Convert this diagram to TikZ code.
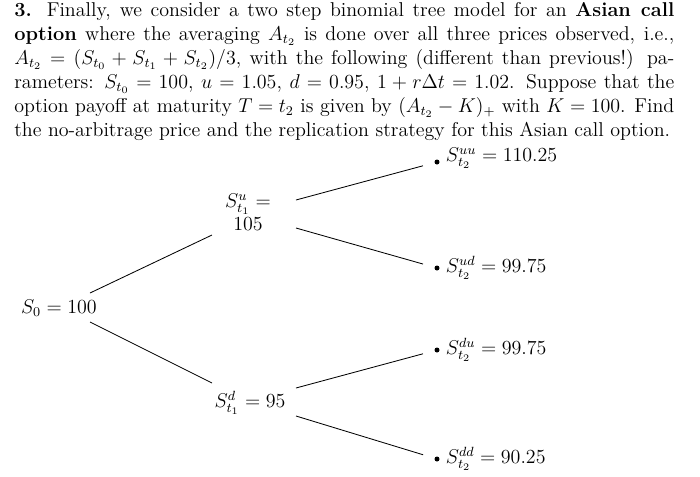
\documentclass[tikz,border=0pt]{standalone}
\usepackage{amsmath}
\begin{document}
\begin{tikzpicture}[x=0.6pt,y=-0.6pt,
  lbl/.style={inner sep=1pt,font=\fontsize{12}{14.4}\selectfont},
  dot/.style={circle,fill,inner sep=0pt,minimum size=3pt},
  edge/.style={line width=0.5pt}]
\useasboundingbox (0,0) rectangle (700,476);
\node[anchor=north west,inner sep=0pt] (txt) at (14,2) {\parbox{396pt}{\fontsize{12}{14.4}\selectfont
\textbf{3.} Finally, we consider a two step binomial tree model for an \textbf{Asian call option} where the averaging $A_{t_2}$ is done over all three prices observed, i.e., $A_{t_2}=(S_{t_0}+S_{t_1}+S_{t_2})/3$, with the following (different than previous!) pa\-rameters: $S_{t_0}=100$, $u=1.05$, $d=0.95$, $1+r\Delta t=1.02$. Suppose that the option payoff at maturity $T=t_2$ is given by $(A_{t_2}-K)_+$ with $K=100$. Find the no-arbitrage price and the replication strategy for this Asian call option.}};
\node[lbl] (s0) at (59,308) {$S_0=100$};
\node[lbl,align=center] (su) at (248,212) {$S^u_{t_1}=$\\[-1pt]$105$};
\node[lbl] (sd) at (250,403) {$S^d_{t_1}=95$};
\node[dot] (duu) at (437,162) {};
\node[dot] (dud) at (437,268) {};
\node[dot] (ddu) at (437,350) {};
\node[dot] (ddd) at (437,459) {};
\node[lbl,anchor=west] (luu) at (444,158) {$S^{uu}_{t_2}=110.25$};
\node[lbl,anchor=west] (lud) at (444,268) {$S^{ud}_{t_2}=99.75$};
\node[lbl,anchor=west] (ldu) at (444,350) {$S^{du}_{t_2}=99.75$};
\node[lbl,anchor=west] (ldd) at (444,459) {$S^{dd}_{t_2}=90.25$};
\coordinate (a1) at (90,293); \coordinate (a2) at (212,235);
\coordinate (b1) at (90,322); \coordinate (b2) at (212,383);
\coordinate (c1) at (296,200); \coordinate (c2) at (296,228);
\coordinate (e1) at (296,388); \coordinate (e2) at (296,416);
\draw[edge] (a1) -- (a2);
\draw[edge] (b1) -- (b2);
\draw[edge,shorten >=7pt] (c1) -- (duu);
\draw[edge,shorten >=7pt] (c2) -- (dud);
\draw[edge,shorten >=7pt] (e1) -- (ddu);
\draw[edge,shorten >=7pt] (e2) -- (ddd);
\end{tikzpicture}
\end{document}
